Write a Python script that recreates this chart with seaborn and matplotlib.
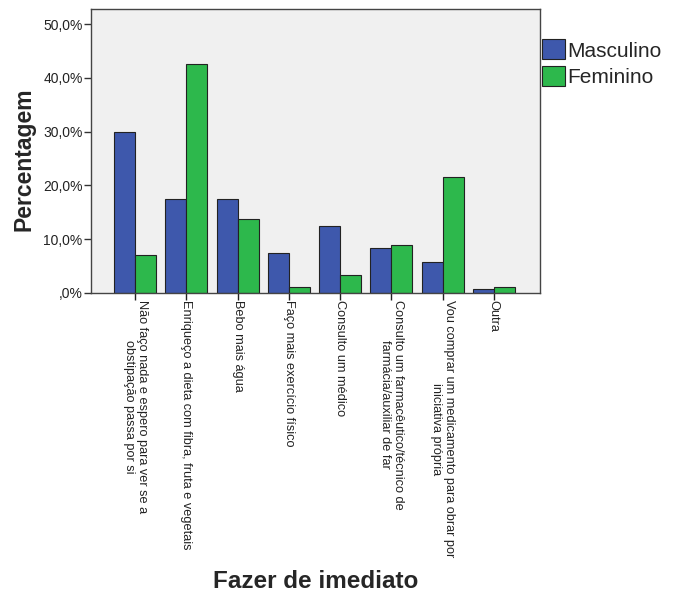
import matplotlib
matplotlib.use("Agg")
import matplotlib.pyplot as plt
import seaborn as sns
import pandas as pd
from matplotlib.ticker import FuncFormatter

# categories (x axis) and the two groups
categorias = [
    "Não faço nada e espero para ver se a\nobstipação passa por si",
    "Enriqueço a dieta com fibra, fruta e vegetais",
    "Bebo mais água",
    "Faço mais exercício físico",
    "Consulto um médico",
    "Consulto um farmacêutico/técnico de\nfarmácia/auxiliar de far",
    "Vou comprar um medicamento para obrar por\niniciativa própria",
    "Outra",
]
masculino = [30.0, 17.5, 17.5, 7.5, 12.5, 8.3, 5.8, 0.8]
feminino = [7.1, 42.6, 13.8, 1.1, 3.3, 8.9, 21.6, 1.1]
grupos = ["Masculino", "Feminino"]
cores = ["#3e58ac", "#2db84c"]

df = pd.DataFrame({
    "categoria": categorias * 2,
    "sexo": [grupos[0]] * len(categorias) + [grupos[1]] * len(categorias),
    "pct": masculino + feminino,
})

sns.set_style("ticks")
plt.rcParams["font.family"] = ["Liberation Sans", "DejaVu Sans"]

fig = plt.figure(figsize=(6.8, 5.94), dpi=100)
ax = fig.add_axes([91 / 680, 1 - 293 / 594, 449 / 680, 284 / 594])
ax.set_facecolor("#f0f0f0")

sns.barplot(data=df, x="categoria", y="pct", hue="sexo", palette=cores,
            width=0.82, edgecolor="#222222", linewidth=0.8, saturation=1,
            ax=ax)

ax.set_ylim(0, 52.8)
ax.set_xlim(-0.86, 7.9)
ax.set_yticks([0, 10, 20, 30, 40, 50])
ax.yaxis.set_major_formatter(FuncFormatter(
    lambda v, p: ",0%" if v == 0 else f"{v:.1f}%".replace(".", ",")))
ax.tick_params(axis="y", labelsize=10, length=5, width=1, colors="#333333",
               labelcolor="#222222", pad=1)
ax.tick_params(axis="x", labelsize=9.2, length=5, width=1, colors="#222222",
               pad=0)
for lab in ax.get_xticklabels():
    lab.set_rotation(270)
    lab.set_ha("center")
    lab.set_va("top")
    lab.set_linespacing(1.1)

for s in ax.spines.values():
    s.set_color("#444444")
    s.set_linewidth(1)

ax.set_xlabel("Fazer de imediato", fontsize=17.5, fontweight="bold")
ax.xaxis.set_label_coords(0.5, -0.975)
ax.set_ylabel("Percentagem", fontsize=16.5, fontweight="bold")
ax.yaxis.set_label_coords(-0.123, 0.47)

ax.legend(loc="upper left", bbox_to_anchor=(1.0, 0.9), frameon=False,
          fontsize=15, handlelength=1.1, handleheight=1.1, handletextpad=0.1,
          labelspacing=0.25, borderaxespad=0.0, borderpad=0.1)

fig.savefig("out.png", dpi=100)
